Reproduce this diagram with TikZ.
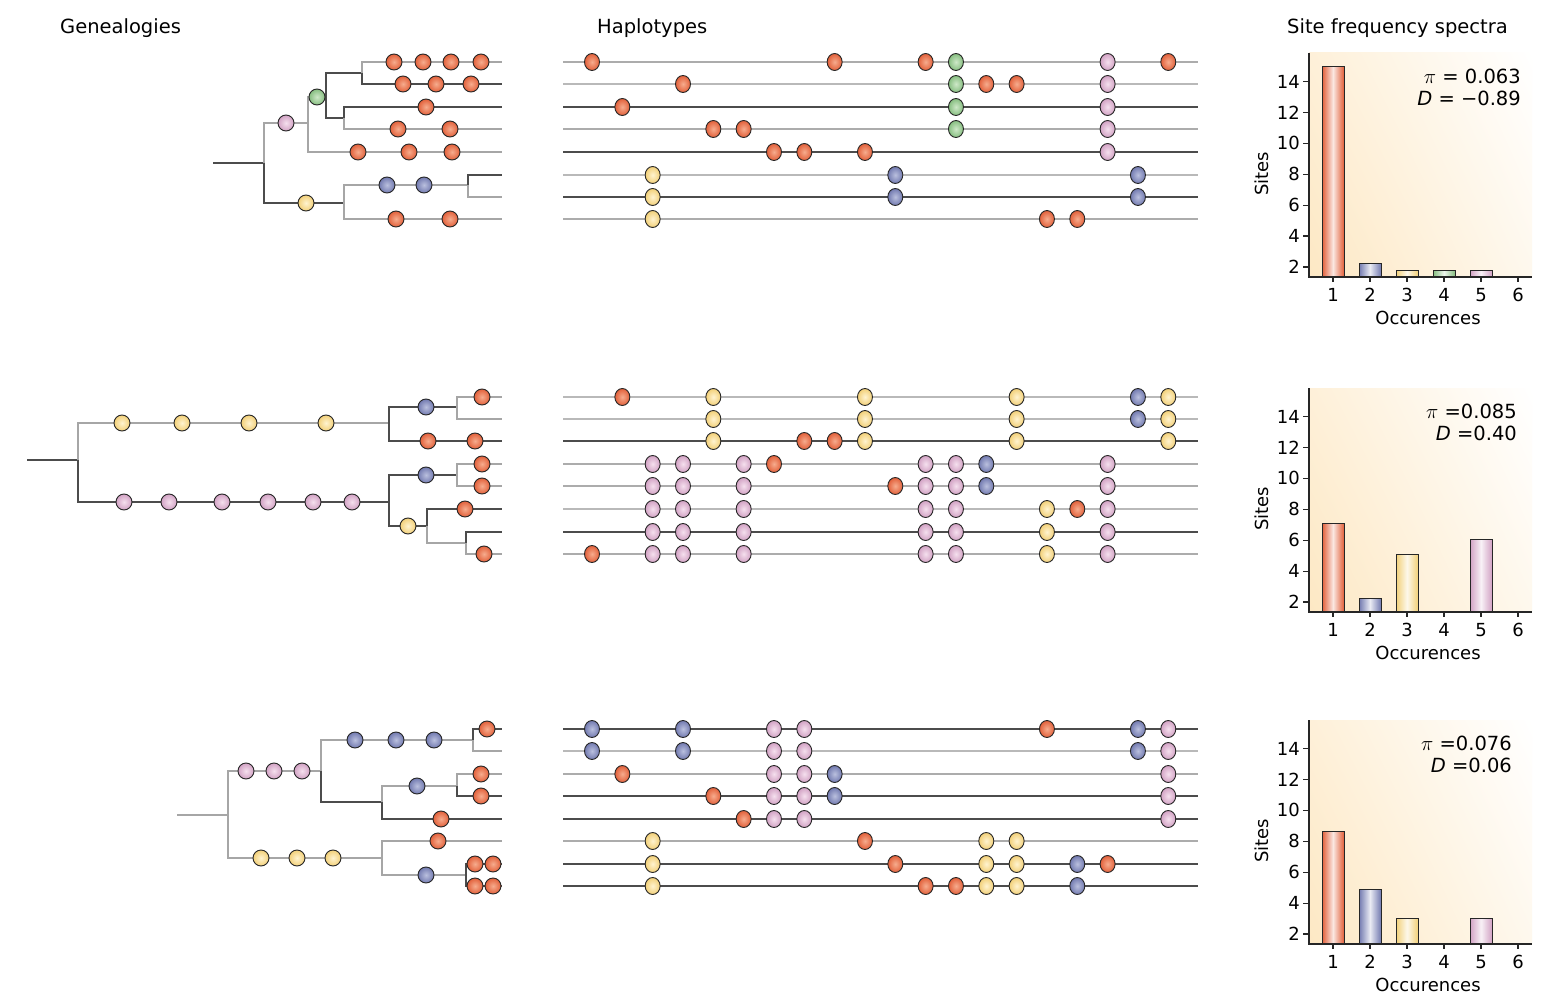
\documentclass[tikz,border=0pt]{standalone}
\usepackage{fontspec}
\setmainfont{DejaVu Sans}
\usetikzlibrary{shapes.geometric, shadings}

\definecolor{mO}{RGB}{226,96,58}
\definecolor{mOL}{RGB}{246,172,142}
\definecolor{mB}{RGB}{114,122,176}
\definecolor{mBL}{RGB}{186,192,222}
\definecolor{mY}{RGB}{242,208,120}
\definecolor{mYL}{RGB}{255,243,208}
\definecolor{mG}{RGB}{134,190,128}
\definecolor{mGL}{RGB}{206,232,200}
\definecolor{mP}{RGB}{210,162,196}
\definecolor{mPL}{RGB}{245,224,238}
\definecolor{sfsbg}{RGB}{253,232,196}

\begin{document}
\begin{tikzpicture}[x=1pt, y=-1pt,
    br/.style={draw=gray!70, line width=1.4pt},
    brD/.style={draw=black!70, line width=1.4pt},
    hapL/.style={draw=gray!65, line width=1.1pt},
    hapT/.style={draw=gray!55, line width=2.2pt},
    hapD/.style={draw=black!70, line width=1.3pt},
    mut/.style={circle, draw=black!85, line width=0.9pt, minimum size=16pt, inner sep=0pt, inner color=#1L, outer color=#1},
    site/.style={ellipse, draw=black!85, line width=0.9pt, minimum width=15pt, minimum height=17pt, inner sep=0pt, inner color=#1L, outer color=#1},
    bar/.style={draw=black!85, line width=1pt, left color=#1, right color=#1, middle color=white!85!#1},
    axisln/.style={draw=black!85, line width=1.2pt},
    lbl/.style={font=\fontsize{18}{21}\selectfont, inner sep=0pt},
    stat/.style={font=\fontsize{19.5}{22}\selectfont, inner sep=0pt, anchor=east},
    ttl/.style={font=\fontsize{19.5}{23}\selectfont, inner sep=0pt, anchor=west}
]

\fill[white] (0,0) rectangle (1545,1008);

% --- Titles ---
\node[ttl] (tGen) at (60,28) {Genealogies};
\node[ttl] (tHap) at (597,28) {Haplotypes};
\node[ttl] (tSfs) at (1287,28) {Site frequency spectra};

% --- Genealogy 1 ---
\coordinate (gA-s) at (213,163);
\coordinate (gA-r) at (264,163);
\coordinate (gA-a) at (308,123);
\coordinate (gA-b) at (326,97);
\coordinate (gA-c) at (362,73);
\coordinate (gA-d) at (344,118);
\coordinate (gA-e) at (344,203);
\coordinate (gA-f) at (468,185);
\foreach \t/\y in {1/62,2/84,3/107,4/129,5/152,6/175,7/197,8/219}
    \coordinate (gA-t\t) at (502,\y);

\draw[brD] (gA-s) -- (gA-r);
\draw[br]  (gA-r) |- (gA-a);
\draw[brD] (gA-r) |- (gA-e);
\draw[br]  (gA-a) |- (gA-b);
\draw[br]  (gA-a) |- (gA-t5);
\draw[brD] (gA-b) |- (gA-c);
\draw[brD] (gA-b) |- (gA-d);
\draw[br]  (gA-c) |- (gA-t1);
\draw[brD] (gA-c) |- (gA-t2);
\draw[brD] (gA-d) |- (gA-t3);
\draw[br]  (gA-d) |- (gA-t4);
\draw[br]  (gA-e) |- (gA-f);
\draw[br]  (gA-e) |- (gA-t8);
\draw[brD] (gA-f) |- (gA-t6);
\draw[br]  (gA-f) |- (gA-t7);

\node[mut=mP] (gA-p) at (286,123) {};
\node[mut=mG] (gA-g) at (317,97) {};
\node[mut=mY] (gA-y) at (306,203) {};
\foreach \x in {387,424}
    \node[mut=mB] (gA-b\x) at (\x,185) {};
\foreach \x/\y in {394/62,423/62,451/62,481/62,403/84,436/84,471/84,426/107,
                   398/129,450/129,358/152,409/152,452/152,396/219,450/219}
    \node[mut=mO] (gA-o\x-\y) at (\x,\y) {};

% --- Genealogy 2 ---
\coordinate (gB-s) at (27,460);
\coordinate (gB-r) at (78,460);
\coordinate (gB-a) at (389,423);
\coordinate (gB-c) at (457,407);
\coordinate (gB-b) at (389,502);
\coordinate (gB-d) at (457,475);
\coordinate (gB-e) at (427,526);
\coordinate (gB-f) at (466,543);
\foreach \t/\y in {1/397,2/419,3/441,4/464,5/486,6/509,7/532,8/554}
    \coordinate (gB-t\t) at (502,\y);

\draw[brD] (gB-s) -- (gB-r);
\draw[br]  (gB-r) |- (gB-a);
\draw[brD] (gB-r) |- (gB-b);
\draw[brD] (gB-a) |- (gB-c);
\draw[brD] (gB-a) |- (gB-t3);
\draw[br]  (gB-c) |- (gB-t1);
\draw[br]  (gB-c) |- (gB-t2);
\draw[brD] (gB-b) |- (gB-d);
\draw[brD] (gB-b) |- (gB-e);
\draw[br]  (gB-d) |- (gB-t4);
\draw[br]  (gB-d) |- (gB-t5);
\draw[brD] (gB-e) |- (gB-t6);
\draw[br]  (gB-e) |- (gB-f);
\draw[brD] (gB-f) |- (gB-t7);
\draw[br]  (gB-f) |- (gB-t8);

\foreach \x in {122,182,249,326}
    \node[mut=mY] (gB-y\x) at (\x,423) {};
\foreach \x in {124,169,222,268,313,352}
    \node[mut=mP] (gB-p\x) at (\x,502) {};
\node[mut=mB] (gB-b1) at (426,407) {};
\node[mut=mB] (gB-b2) at (426,475) {};
\node[mut=mY] (gB-y2) at (408,526) {};
\foreach \x/\y in {482/397,428/441,475/441,482/464,482/486,465/509,484/554}
    \node[mut=mO] (gB-o\x-\y) at (\x,\y) {};

% --- Genealogy 3 ---
\coordinate (gC-s) at (177,815);
\coordinate (gC-r) at (228,815);
\coordinate (gC-a) at (321,771);
\coordinate (gC-c) at (473,740);
\coordinate (gC-d) at (382,802);
\coordinate (gC-e) at (457,786);
\coordinate (gC-b) at (382,858);
\coordinate (gC-f) at (466,875);
\foreach \t/\y in {1/729,2/751,3/774,4/796,5/819,6/841,7/864,8/886}
    \coordinate (gC-t\t) at (502,\y);

\draw[br]  (gC-s) -- (gC-r);
\draw[br]  (gC-r) |- (gC-a);
\draw[br]  (gC-r) |- (gC-b);
\draw[br]  (gC-a) |- (gC-c);
\draw[brD] (gC-a) |- (gC-d);
\draw[brD] (gC-c) |- (gC-t1);
\draw[br]  (gC-c) |- (gC-t2);
\draw[br]  (gC-d) |- (gC-e);
\draw[brD] (gC-d) |- (gC-t5);
\draw[br]  (gC-e) |- (gC-t3);
\draw[brD] (gC-e) |- (gC-t4);
\draw[br]  (gC-b) |- (gC-t6);
\draw[br]  (gC-b) |- (gC-f);
\draw[brD] (gC-f) |- (gC-t7);
\draw[brD] (gC-f) |- (gC-t8);

\foreach \x in {246,274,302}
    \node[mut=mP] (gC-p\x) at (\x,771) {};
\foreach \x in {355,396,434}
    \node[mut=mB] (gC-b\x) at (\x,740) {};
\foreach \x in {261,297,333}
    \node[mut=mY] (gC-y\x) at (\x,858) {};
\node[mut=mB] (gC-b1) at (417,786) {};
\node[mut=mB] (gC-b2) at (426,875) {};
\foreach \x/\y in {487/729,481/774,481/796,441/819,438/841,475/864,493/864,475/886,493/886}
    \node[mut=mO] (gC-o\x-\y) at (\x,\y) {};

% --- Haplotypes ---
% site i sits at x = 592 + 30.33 i
\foreach \r/\y/\ls/\sites in {
    1/62/hapL/{0/mO,8/mO,11/mO,12/mG,17/mP,19/mO},
    2/84/hapT/{3/mO,12/mG,13/mO,14/mO,17/mP},
    3/107/hapD/{1/mO,12/mG,17/mP},
    4/129/hapL/{4/mO,5/mO,12/mG,17/mP},
    5/152/hapD/{6/mO,7/mO,9/mO,17/mP},
    6/175/hapT/{2/mY,10/mB,18/mB},
    7/197/hapD/{2/mY,10/mB,18/mB},
    8/219/hapL/{2/mY,15/mO,16/mO}}{
    \coordinate (hA-\r-l) at (563,\y);
    \coordinate (hA-\r-r) at (1198,\y);
    \draw[\ls] (hA-\r-l) -- (hA-\r-r);
    \foreach \s/\c in \sites
        \node[site=\c] (hA-\r-\s) at ({592+30.33*\s},\y) {};
}

\foreach \r/\y/\ls/\sites in {
    1/397/hapT/{1/mO,4/mY,9/mY,14/mY,18/mB,19/mY},
    2/419/hapT/{4/mY,9/mY,14/mY,18/mB,19/mY},
    3/441/hapD/{4/mY,7/mO,8/mO,9/mY,14/mY,19/mY},
    4/464/hapL/{2/mP,3/mP,5/mP,6/mO,11/mP,12/mP,13/mB,17/mP},
    5/486/hapL/{2/mP,3/mP,5/mP,10/mO,11/mP,12/mP,13/mB,17/mP},
    6/509/hapT/{2/mP,3/mP,5/mP,11/mP,12/mP,15/mY,16/mO,17/mP},
    7/532/hapD/{2/mP,3/mP,5/mP,11/mP,12/mP,15/mY,17/mP},
    8/554/hapL/{0/mO,2/mP,3/mP,5/mP,11/mP,12/mP,15/mY,17/mP}}{
    \coordinate (hB-\r-l) at (563,\y);
    \coordinate (hB-\r-r) at (1198,\y);
    \draw[\ls] (hB-\r-l) -- (hB-\r-r);
    \foreach \s/\c in \sites
        \node[site=\c] (hB-\r-\s) at ({592+30.33*\s},\y) {};
}

\foreach \r/\y/\ls/\sites in {
    1/729/hapD/{0/mB,3/mB,6/mP,7/mP,15/mO,18/mB,19/mP},
    2/751/hapT/{0/mB,3/mB,6/mP,7/mP,18/mB,19/mP},
    3/774/hapL/{1/mO,6/mP,7/mP,8/mB,19/mP},
    4/796/hapD/{4/mO,6/mP,7/mP,8/mB,19/mP},
    5/819/hapD/{5/mO,6/mP,7/mP,19/mP},
    6/841/hapL/{2/mY,9/mO,13/mY,14/mY},
    7/864/hapD/{2/mY,10/mO,13/mY,14/mY,16/mB,17/mO},
    8/886/hapD/{2/mY,11/mO,12/mO,13/mY,14/mY,16/mB}}{
    \coordinate (hC-\r-l) at (563,\y);
    \coordinate (hC-\r-r) at (1198,\y);
    \draw[\ls] (hC-\r-l) -- (hC-\r-r);
    \foreach \s/\c in \sites
        \node[site=\c] (hC-\r-\s) at ({592+30.33*\s},\y) {};
}

% --- Site frequency spectra ---
% value v sits at y = yb - 10 - 15.45 (v - 2)
\foreach \pn/\yb/\tx/\pitxt/\dtxt/\bars in {
    1/277/1521/{$\pi$ = 0.063}/{\textit{D} = −0.89}/{1/15/mO,2/2.25/mB,3/1.8/mY,4/1.8/mG,5/1.8/mP},
    2/612/1517/{$\pi$ =0.085}/{\textit{D} =0.40}/{1/7.05/mO,2/2.25/mB,3/5.05/mY,5/6.05/mP},
    3/944/1512/{$\pi$ =0.076}/{\textit{D} =0.06}/{1/8.65/mO,2/4.85/mB,3/3/mY,5/3/mP}}{
    \shade[lower left=sfsbg, upper left=sfsbg!65!white, lower right=sfsbg!30!white, upper right=white]
        (1309,\yb-224) rectangle (1532,\yb);
    \foreach \k/\v/\c in \bars
        \draw[bar=\c] ({1322+37*(\k-1)},\yb) rectangle ({1344+37*(\k-1)},{\yb-10-15.45*(\v-2)});
    \draw[axisln] (1309,\yb-224) -- (1309,\yb) -- (1532,\yb);
    \foreach \v in {2,4,...,14}{
        \draw[axisln] (1303,{\yb-10-15.45*(\v-2)}) -- (1309,{\yb-10-15.45*(\v-2)});
        \node[lbl, anchor=east] (s\pn-y\v) at (1300,{\yb-10-15.45*(\v-2)}) {\v};
    }
    \foreach \k in {1,...,6}{
        \draw[axisln] ({1333+37*(\k-1)},\yb) -- ({1333+37*(\k-1)},\yb+5);
        \node[lbl] (s\pn-x\k) at ({1333+37*(\k-1)},\yb+18) {\k};
    }
    \node[lbl] (s\pn-xl) at (1428,\yb+41) {Occurences};
    \node[lbl, rotate=90] (s\pn-yl) at (1262,\yb-103) {Sites};
    \node[stat] (s\pn-pi) at (\tx,\yb-201) {\pitxt};
    \node[stat] (s\pn-d) at (\tx,\yb-179) {\dtxt};
}

\end{tikzpicture}
\end{document}
